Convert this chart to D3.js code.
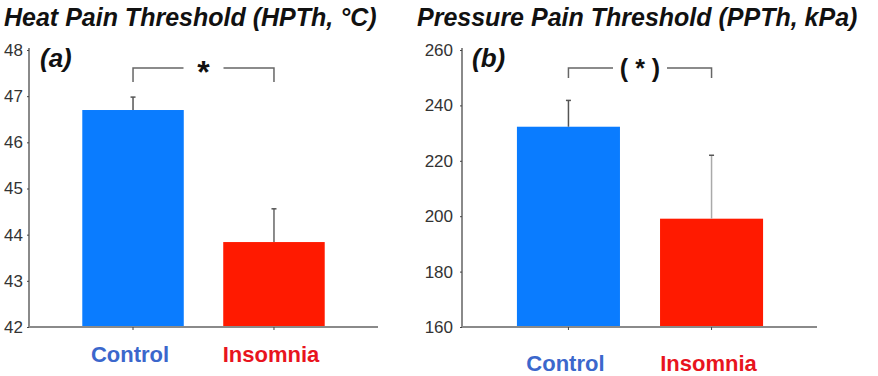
<!DOCTYPE html>
<html>
<head>
<meta charset="utf-8">
<script src="https://cdn.jsdelivr.net/npm/d3@7.9.0/dist/d3.min.js"></script>
<style>
  body { margin: 0; background: #fff; }
  text { font-family: "Liberation Sans", Arial, sans-serif; }
</style>
</head>
<body>
<svg id="chart" width="878" height="376"></svg>
<script>
// ---- data ----
const groups     = ['Control', 'Insomnia'];
const hpthMeans  = [46.70, 43.84];
const hpthErrors = [0.28, 0.72];
const hpthTicks  = [42, 43, 44, 45, 46, 47, 48];
const ppthMeans  = [232.3, 199.1];
const ppthErrors = [9.5, 22.9];
const ppthTicks  = [160, 180, 200, 220, 240, 260];

const barColors   = ['#0a7cff', '#ff1a00'];
const labelColors = ['#3b67cc', '#e8141e'];

const svg = d3.select('#chart');

/* one panel = title, axis, bars, error bars, bracket */
function panel(opt) {
  const g = svg.append('g');

  const y = d3.scaleLinear().domain(opt.domain).range([327, 50]);
  const x = d3.scaleBand().domain(groups).range(opt.band).paddingInner(0.28).paddingOuter(0.3);

  g.append('text')
    .attr('x', opt.titleX).attr('y', 26)
    .attr('font-size', 25).attr('font-weight', 'bold').attr('font-style', 'italic')
    .attr('fill', '#111')
    .text(opt.title);

  // bars
  g.selectAll('rect.bar')
    .data(opt.means)
    .enter().append('rect')
      .attr('x', (_, i) => x(groups[i]))
      .attr('width', x.bandwidth())
      .attr('y', d => y(d))
      .attr('height', d => y(opt.domain[0]) - y(d))
      .attr('fill', (_, i) => barColors[i]);

  // error bars (upper only)
  const err = g.selectAll('g.err')
    .data(opt.means)
    .enter().append('g');
  err.append('line')
    .attr('x1', (_, i) => x(groups[i]) + x.bandwidth() / 2)
    .attr('x2', (_, i) => x(groups[i]) + x.bandwidth() / 2)
    .attr('y1', d => y(d))
    .attr('y2', (d, i) => y(d + opt.errors[i]))
    .attr('stroke', (_, i) => opt.errColors[i]).attr('stroke-width', 1.5);
  err.append('line')
    .attr('x1', (_, i) => x(groups[i]) + x.bandwidth() / 2 - 2.5)
    .attr('x2', (_, i) => x(groups[i]) + x.bandwidth() / 2 + 2.5)
    .attr('y1', (d, i) => y(d + opt.errors[i]))
    .attr('y2', (d, i) => y(d + opt.errors[i]))
    .attr('stroke', '#555').attr('stroke-width', 1.5);

  // y axis
  const ya = g.append('g')
    .attr('transform', `translate(${opt.x0},0)`)
    .call(d3.axisLeft(y).tickValues(opt.ticks).tickSize(2).tickPadding(opt.tickPad).tickFormat(d3.format('d')));
  ya.select('.domain').attr('stroke', '#8a8a8a').attr('stroke-width', 2).attr('d', `M0,${y(opt.domain[1]) - 2}V${y(opt.domain[0])}`);
  ya.selectAll('.tick line').attr('stroke', '#444');
  ya.selectAll('.tick text').attr('font-size', 17).attr('fill', '#333').attr('font-family', '"Liberation Sans", Arial, sans-serif');

  // x axis
  const xa = g.append('g')
    .attr('transform', `translate(0,${y(opt.domain[0])})`)
    .call(d3.axisBottom(x).tickSize(3).tickFormat(''));
  xa.select('.domain').attr('stroke', '#8a8a8a').attr('stroke-width', 2).attr('d', `M${opt.x0},0H${opt.x1}`);
  xa.selectAll('.tick line').attr('stroke', '#444');

  // group labels
  g.selectAll('text.grp')
    .data(groups)
    .enter().append('text')
      .attr('x', d => x(d) + x.bandwidth() / 2 - 3)
      .attr('y', opt.labelY)
      .attr('text-anchor', 'middle')
      .attr('font-size', 22).attr('font-weight', 'bold')
      .attr('fill', (_, i) => labelColors[i])
      .text(d => d);

  // panel letter
  g.append('text')
    .attr('x', opt.x0 + opt.letterDx).attr('y', 67)
    .attr('font-size', 26).attr('font-weight', 'bold').attr('font-style', 'italic')
    .attr('fill', '#111')
    .text(opt.letter);

  // significance bracket
  const bx0 = x(groups[0]) + x.bandwidth() / 2;
  const bx1 = x(groups[1]) + x.bandwidth() / 2;
  const mid = (bx0 + bx1) / 2;
  const by = 68;
  g.append('path')
    .attr('d', `M${bx0},${by + opt.bracketDrop}V${by}H${mid - opt.gap}M${mid + opt.gap},${by}H${bx1}V${by + opt.bracketDrop}`)
    .attr('fill', 'none').attr('stroke', '#666').attr('stroke-width', 1.5);
  g.append('text')
    .attr('x', mid).attr('y', by + opt.starDy)
    .attr('text-anchor', 'middle')
    .attr('font-size', opt.starSize).attr('font-weight', 'bold')
    .attr('fill', '#111')
    .text(opt.star);
}

panel({
  title: 'Heat Pain Threshold (HPTh, °C)', titleX: 4,
  letter: '(a)', letterDx: 11, x0: 29, x1: 378, band: [40, 367], tickPad: 4,
  domain: [42, 48], ticks: hpthTicks,
  means: hpthMeans, errors: hpthErrors, errColors: ['#555', '#666'],
  labelY: 362, gap: 20, bracketDrop: 14, star: '*', starSize: 32, starDy: 15
});

panel({
  title: 'Pressure Pain Threshold (PPTh, kPa)', titleX: 417,
  letter: '(b)', letterDx: 10, x0: 462, x1: 817, band: [474, 806], tickPad: 7,
  domain: [160, 260], ticks: ppthTicks,
  means: ppthMeans, errors: ppthErrors, errColors: ['#555', '#aaa'],
  labelY: 371, gap: 27, bracketDrop: 10, star: '( * )', starSize: 25, starDy: 9
});
</script>
</body>
</html>
